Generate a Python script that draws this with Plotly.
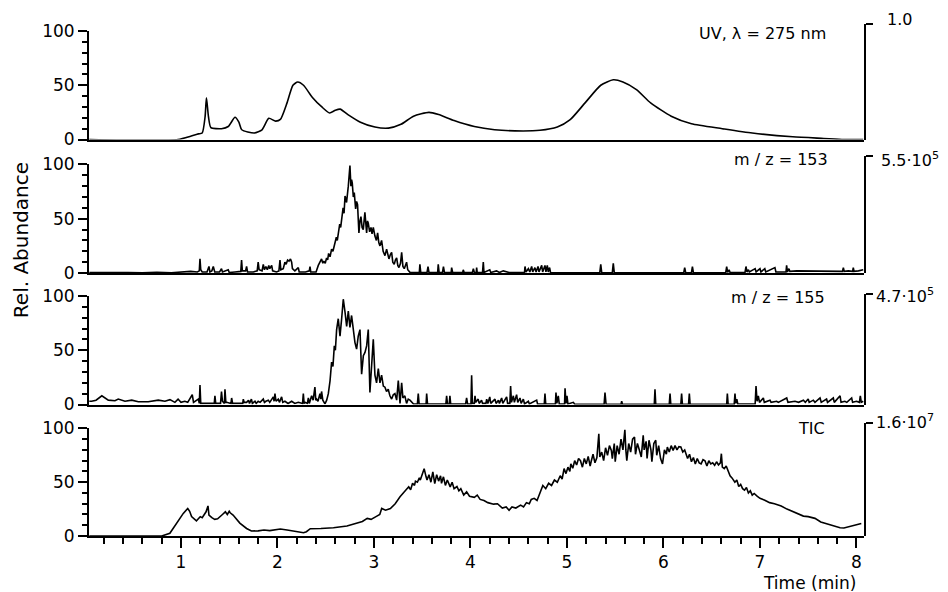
import plotly.graph_objects as go

# ---------------- data ----------------
x_range = [0.047, 8.078]

uv = [(0.05, 0), (0.97, 0), (1.10, 3), (1.18, 5.2), (1.22, 6), (1.25, 21), (1.264, 38.5), (1.285, 21),
      (1.31, 11), (1.42, 10), (1.49, 12), (1.56, 20.5), (1.60, 16), (1.63, 9), (1.76, 6), (1.84, 9),
      (1.91, 19.5), (1.98, 17), (2.03, 18.5), (2.10, 34), (2.16, 50), (2.21, 53), (2.27, 50), (2.36, 39),
      (2.46, 30), (2.54, 24.5), (2.60, 27), (2.65, 28), (2.73, 23), (2.86, 16), (3.01, 11.5), (3.15, 10.5),
      (3.28, 14), (3.41, 21.5), (3.57, 25), (3.67, 23), (3.83, 17.5), (4.04, 12), (4.25, 9), (4.46, 8),
      (4.72, 8.5), (4.90, 11.5), (5.03, 18), (5.19, 34), (5.35, 50), (5.48, 55), (5.58, 53), (5.72, 46),
      (5.87, 33.5), (6.08, 21.5), (6.29, 14.5), (6.61, 10), (6.92, 6), (7.34, 2.5), (7.66, 1), (7.87, 0),
      (8.07, 0)]

mz153 = [(0.05, 0.5), (0.30, 0.8), (0.45, 0.4), (0.60, 0.3), (0.75, 0.7), (0.90, 0.3), (1.00, 0.8), (1.10, 1.5),
         (1.17, 1), (1.19, 2), (1.197, 13), (1.205, 3), (1.22, 1), (1.27, 1), (1.29, 6), (1.30, 1), (1.32, 2),
         (1.335, 6), (1.35, 1), (1.40, 1), (1.42, 4), (1.43, 1), (1.49, 3), (1.50, 0.5), (1.56, 1), (1.62, 1.5),
         (1.628, 12), (1.636, 2), (1.67, 2), (1.68, 6), (1.69, 1), (1.75, 1), (1.79, 2), (1.80, 10), (1.81, 3),
         (1.84, 2), (1.853, 8), (1.865, 3), (1.88, 6), (1.895, 3), (1.91, 7), (1.92, 4), (1.94, 7), (1.95, 2),
         (1.99, 1), (2.015, 2), (2.026, 12), (2.035, 3), (2.06, 4), (2.077, 10), (2.09, 8), (2.105, 12),
         (2.12, 11), (2.135, 13), (2.147, 10), (2.155, 4), (2.18, 2), (2.216, 5), (2.225, 1), (2.29, 1),
         (2.33, 2), (2.337, 6), (2.345, 1), (2.40, 1), (2.423, 7), (2.44, 10), (2.457, 13), (2.47, 9),
         (2.48, 11), (2.495, 9), (2.509, 14), (2.52, 12), (2.53, 18), (2.545, 15), (2.561, 22), (2.575, 20),
         (2.596, 28), (2.61, 33), (2.62, 30), (2.63, 37), (2.645, 45), (2.655, 42), (2.665, 52), (2.68, 60),
         (2.69, 55), (2.70, 71), (2.716, 65), (2.725, 72), (2.734, 80), (2.751, 99), (2.761, 80), (2.768, 86),
         (2.775, 83), (2.786, 70), (2.796, 74), (2.81, 59), (2.82, 66), (2.83, 63), (2.844, 37), (2.855, 48),
         (2.865, 52), (2.877, 42), (2.889, 40), (2.906, 56), (2.915, 44), (2.924, 37), (2.933, 48),
         (2.941, 46), (2.955, 38), (2.969, 42), (2.98, 36), (2.993, 42), (3.01, 34), (3.025, 30), (3.038, 37),
         (3.05, 28), (3.062, 25), (3.079, 30), (3.095, 20), (3.114, 16), (3.131, 22), (3.145, 15), (3.155, 13),
         (3.17, 17), (3.183, 19), (3.195, 10), (3.21, 8), (3.222, 12), (3.235, 14), (3.247, 7), (3.259, 5),
         (3.275, 9), (3.287, 19), (3.30, 6), (3.314, 4), (3.326, 7), (3.338, 10), (3.35, 3), (3.373, 0.6),
         (3.40, 0.5), (3.47, 0.5), (3.476, 8), (3.485, 0.5), (3.55, 0.5), (3.56, 6), (3.57, 0.5), (3.66, 0.5),
         (3.666, 8), (3.675, 0.5), (3.71, 0.5), (3.72, 6), (3.73, 0.5), (3.80, 0.5), (3.805, 5), (3.815, 0.5),
         (3.92, 0.5), (3.925, 3), (3.935, 0.5), (4.02, 0.5), (4.03, 4), (4.04, 0.5), (4.06, 0.5), (4.064, 5),
         (4.07, 0.5), (4.125, 0.5), (4.133, 10), (4.14, 0.5), (4.20, 3), (4.21, 0.5), (4.27, 2), (4.30, 0.5),
         (4.34, 2), (4.375, 1.5), (4.40, 0.5), (4.56, 0.5), (4.565, 6), (4.575, 1), (4.60, 4), (4.615, 1),
         (4.634, 6), (4.645, 1), (4.668, 5), (4.68, 1), (4.70, 6), (4.71, 1), (4.738, 7), (4.748, 1),
         (4.772, 7), (4.782, 1), (4.796, 7), (4.806, 1), (4.82, 5), (4.83, 0.3), (5.34, 0.3), (5.35, 8),
         (5.36, 0.3), (5.47, 0.3), (5.48, 9), (5.49, 0.3), (6.21, 0.3), (6.22, 5), (6.23, 0.3), (6.29, 0.3),
         (6.30, 6), (6.31, 0.3), (6.645, 0.3), (6.655, 6), (6.665, 0.5), (6.68, 3), (6.69, 0.5), (6.845, 0.5),
         (6.855, 6), (6.865, 1), (6.88, 3), (6.89, 1), (6.95, 4), (6.96, 1), (7.00, 4), (7.01, 1), (7.05, 4),
         (7.06, 1), (7.155, 5), (7.165, 1), (7.27, 1), (7.276, 7), (7.285, 1), (7.30, 4), (7.31, 1.5),
         (7.38, 2), (7.45, 2), (7.52, 1.5), (7.59, 2), (7.66, 1.5), (7.73, 2), (7.795, 2), (7.855, 1.5),
         (7.864, 5), (7.873, 1.5), (7.916, 2), (7.96, 1.5), (7.967, 5), (7.975, 1.5), (8.02, 2), (8.07, 3)]

mz155 = [(0.05, 3), (0.074, 3), (0.12, 4), (0.18, 8), (0.247, 4), (0.316, 3.5), (0.35, 5), (0.42, 3), (0.49, 4),
         (0.558, 2.5), (0.66, 2.5), (0.72, 3), (0.765, 4), (0.834, 3), (0.886, 4.5), (0.937, 2), (0.97, 5),
         (1.00, 2), (1.04, 3), (1.07, 2), (1.093, 5), (1.117, 9), (1.13, 2), (1.145, 3), (1.18, 5), (1.19, 1),
         (1.197, 18), (1.205, 1), (1.214, 1), (1.345, 1), (1.352, 8), (1.36, 1), (1.41, 1), (1.42, 12),
         (1.43, 3), (1.45, 1), (1.456, 14), (1.465, 2), (1.473, 2), (1.518, 1), (1.525, 6), (1.535, 1),
         (1.64, 1), (1.646, 5), (1.655, 2), (1.68, 2), (1.70, 4), (1.71, 1), (1.73, 5), (1.74, 1), (1.767, 3),
         (1.78, 1), (1.80, 3), (1.82, 2), (1.853, 5), (1.865, 2), (1.88, 3), (1.905, 4), (1.92, 2), (1.94, 5),
         (1.957, 7), (1.965, 3), (1.974, 10), (1.985, 3), (2.008, 5), (2.02, 2), (2.043, 7), (2.055, 2),
         (2.077, 3), (2.11, 1), (2.147, 3), (2.18, 1), (2.216, 2), (2.26, 1), (2.268, 10), (2.276, 1),
         (2.285, 2), (2.31, 1), (2.32, 6), (2.33, 1), (2.354, 8), (2.37, 4), (2.388, 16), (2.397, 4),
         (2.406, 5), (2.42, 3), (2.44, 10), (2.45, 5), (2.457, 12), (2.47, 4), (2.492, 0.5), (2.51, 4),
         (2.527, 10), (2.545, 22), (2.561, 39), (2.575, 35), (2.589, 54), (2.60, 50), (2.613, 69), (2.63, 79),
         (2.648, 63), (2.665, 79), (2.682, 97), (2.70, 85), (2.717, 72), (2.734, 86), (2.751, 71), (2.768, 82),
         (2.786, 69), (2.803, 57), (2.82, 51), (2.837, 63), (2.855, 69), (2.872, 28), (2.89, 45), (2.907, 48),
         (2.924, 54), (2.941, 69), (2.958, 11), (2.976, 42), (2.993, 60), (3.01, 27), (3.027, 20), (3.045, 33),
         (3.062, 20), (3.079, 27), (3.097, 17), (3.114, 16), (3.13, 12), (3.148, 14), (3.165, 8), (3.183, 5),
         (3.20, 9), (3.217, 10), (3.235, 4), (3.252, 22), (3.27, 1), (3.287, 20), (3.30, 6), (3.32, 8),
         (3.338, 1), (3.355, 5), (3.373, 4), (3.41, 0.5), (3.45, 0.5), (3.459, 10), (3.468, 0.5), (3.54, 0.5),
         (3.546, 10), (3.555, 0.5), (3.745, 0.5), (3.753, 8), (3.762, 0.5), (3.78, 0.5), (3.787, 8),
         (3.795, 0.5), (3.95, 0.5), (3.96, 6), (3.97, 0.5), (4.005, 0.5), (4.012, 27), (4.02, 1), (4.04, 1),
         (4.047, 8), (4.055, 2), (4.08, 5), (4.09, 1), (4.115, 4), (4.125, 1), (4.16, 1), (4.168, 5), (4.18, 1),
         (4.2, 7), (4.21, 1), (4.254, 5), (4.265, 1), (4.29, 4), (4.30, 1), (4.323, 6), (4.335, 1), (4.375, 7),
         (4.385, 1), (4.408, 1), (4.416, 17), (4.425, 2), (4.444, 8), (4.455, 2), (4.478, 9), (4.49, 2),
         (4.513, 6), (4.525, 1), (4.548, 5), (4.56, 0.5), (4.6, 3), (4.61, 0.5), (4.686, 4), (4.695, 0.5),
         (4.765, 0.5), (4.772, 10), (4.78, 0.5), (4.88, 0.5), (4.886, 11), (4.895, 1), (4.91, 8), (4.92, 0.5),
         (4.975, 0.5), (4.98, 15), (4.99, 1), (5.0, 8), (5.01, 0.5), (5.066, 2), (5.08, 0.3), (5.385, 0.3),
         (5.394, 11), (5.405, 0.3), (5.56, 0.3), (5.567, 3), (5.575, 0.3), (5.905, 0.3), (5.912, 14),
         (5.92, 0.3), (6.06, 0.3), (6.068, 10), (6.076, 0.3), (6.18, 0.3), (6.188, 10), (6.196, 0.3),
         (6.26, 0.3), (6.268, 10), (6.276, 0.3), (6.655, 0.3), (6.662, 10), (6.67, 0.3), (6.733, 0.3),
         (6.741, 10), (6.75, 1), (6.76, 5), (6.77, 0.5), (6.95, 0.5), (6.959, 17), (6.97, 3), (6.983, 8),
         (6.995, 2), (7.035, 6), (7.045, 2), (7.104, 4), (7.115, 2), (7.173, 3), (7.19, 2), (7.277, 6),
         (7.29, 2), (7.363, 3), (7.40, 2), (7.45, 4), (7.47, 2), (7.50, 5), (7.51, 2), (7.553, 4), (7.57, 2),
         (7.622, 6), (7.635, 2), (7.69, 5), (7.70, 2), (7.76, 6), (7.77, 2), (7.83, 8), (7.84, 2), (7.88, 3),
         (7.90, 2), (7.95, 6), (7.96, 2), (8.0, 3), (8.03, 2), (8.04, 8), (8.05, 2), (8.07, 3)]

tic = [(0.05, 0), (0.80, 0), (0.885, 2.5), (0.955, 12), (1.00, 18), (1.024, 21), (1.07, 25.6), (1.09, 23),
       (1.11, 18), (1.16, 14), (1.18, 16), (1.20, 18), (1.22, 17), (1.24, 19.5), (1.26, 22.5), (1.28, 28),
       (1.29, 19.5), (1.32, 17), (1.35, 15.5), (1.38, 16), (1.40, 18), (1.43, 20), (1.46, 22.5), (1.48, 20),
       (1.50, 23), (1.51, 21.6), (1.54, 19.5), (1.58, 15), (1.61, 12), (1.68, 7), (1.73, 4.6), (1.80, 4.8),
       (1.86, 5.6), (1.92, 5), (1.97, 5.5), (2.03, 6.5), (2.10, 5.5), (2.17, 4.6), (2.27, 3), (2.30, 4),
       (2.34, 6.8), (2.45, 7), (2.58, 7.7), (2.72, 9.3), (2.76, 10.5), (2.82, 12.3), (2.88, 13.5),
       (2.93, 16.4), (2.97, 15.5), (3.03, 18.5), (3.06, 20), (3.08, 25.6), (3.12, 24), (3.17, 25.6),
       (3.22, 30), (3.27, 36.4), (3.32, 42), (3.36, 45.7), (3.38, 43), (3.40, 49), (3.42, 47), (3.43, 51),
       (3.45, 50), (3.47, 54), (3.48, 52), (3.50, 57), (3.52, 62.6), (3.54, 55), (3.55, 52), (3.57, 57),
       (3.59, 50), (3.61, 59.6), (3.62, 52), (3.63, 48.8), (3.65, 57), (3.67, 51), (3.69, 56), (3.70, 49),
       (3.72, 55), (3.74, 47), (3.76, 52), (3.79, 45.7), (3.81, 50), (3.83, 44), (3.86, 46), (3.88, 42),
       (3.90, 44), (3.93, 38), (3.96, 41), (3.99, 37), (4.04, 36), (4.07, 38), (4.10, 34), (4.14, 33),
       (4.18, 31), (4.24, 29.6), (4.28, 30), (4.33, 26), (4.37, 27), (4.40, 24), (4.43, 27), (4.47, 26),
       (4.52, 28.7), (4.55, 27), (4.58, 31), (4.61, 30), (4.63, 34), (4.66, 35), (4.69, 33), (4.72, 41),
       (4.75, 47), (4.78, 44), (4.81, 49), (4.84, 47), (4.87, 52), (4.90, 50), (4.93, 56), (4.95, 53),
       (4.97, 62.6), (4.99, 58), (5.01, 64), (5.03, 60), (5.04, 67), (5.06, 63), (5.08, 70), (5.10, 66),
       (5.12, 72), (5.14, 70), (5.16, 64), (5.18, 72), (5.20, 67), (5.22, 74), (5.24, 65), (5.25, 69),
       (5.27, 76), (5.29, 68), (5.31, 73), (5.33, 95), (5.34, 73.5), (5.36, 78), (5.38, 70), (5.40, 82),
       (5.42, 75), (5.44, 84), (5.46, 79.6), (5.47, 72), (5.49, 86), (5.50, 69), (5.52, 84), (5.54, 76),
       (5.56, 90), (5.58, 80), (5.60, 98.8), (5.61, 80), (5.62, 70), (5.64, 86), (5.66, 78), (5.68, 90),
       (5.70, 92), (5.71, 76), (5.73, 86), (5.75, 80), (5.77, 73.5), (5.79, 93.5), (5.80, 80), (5.82, 88),
       (5.83, 72), (5.85, 89), (5.87, 80), (5.88, 69), (5.90, 86), (5.92, 89), (5.93, 75), (5.95, 84),
       (5.97, 72), (5.99, 67), (6.01, 80), (6.03, 76), (6.04, 82.7), (6.06, 78), (6.08, 84), (6.10, 79.6),
       (6.12, 84), (6.14, 80), (6.16, 83), (6.18, 82.7), (6.20, 78), (6.22, 80), (6.25, 72), (6.27, 76),
       (6.29, 69), (6.31, 73), (6.33, 67), (6.35, 72), (6.37, 68), (6.39, 67), (6.41, 71), (6.43, 70),
       (6.45, 65), (6.47, 70), (6.49, 67), (6.51, 68), (6.53, 65.7), (6.55, 69), (6.57, 66), (6.59, 68),
       (6.60, 76.5), (6.61, 64), (6.63, 62.6), (6.65, 65), (6.67, 61), (6.69, 56), (6.71, 54), (6.74, 50),
       (6.76, 52), (6.78, 46), (6.80, 48), (6.82, 44), (6.84, 42.6), (6.86, 45), (6.88, 40), (6.90, 42),
       (6.92, 38), (6.94, 39.5), (6.97, 37), (7.00, 35), (7.05, 33.3), (7.10, 31), (7.15, 30), (7.22, 27.8),
       (7.28, 25), (7.33, 23), (7.39, 21), (7.45, 18.5), (7.50, 18), (7.57, 16.4), (7.63, 13), (7.70, 11),
       (7.77, 9), (7.83, 7.7), (7.87, 7.5), (7.91, 8.6), (7.97, 10), (8.02, 11), (8.05, 11.7)]

panel_labels = ["UV, λ = 275 nm", "m / z = 153", "m / z = 155", "TIC"]
scale_labels = ["1.0", "5.5·10<sup>5</sup>", "4.7·10<sup>5</sup>", "1.6·10<sup>7</sup>"]
y_ticks = [0, 50, 100]
y_title = "Rel. Abundance"
x_title = "Time (min)"

# ---------------- layout geometry ----------------
W, H = 948, 592
ML, MR, MT, MB = 89, 84, 20, 56
PW = W - ML - MR
PH = H - MT - MB


def py(p):
    return (H - MB - p) / PH


def px(p):
    return (p - ML) / PW


# (bottom of panel, value 100 level, top of right-hand scale line, label y) in pixels
panel_px = [(138, 29, 22, 32), (272, 163, 155, 158), (404, 295, 293, 297), (536, 428, 423, 428)]
label_right_px = [828, 830, 827, 827]
scale_label_px = [(885, 17), (879, 158), (874, 295), (874, 421)]

FONT = "DejaVu Sans"
series = [uv, mz153, mz155, tic]
shapes = ["spline", "linear", "linear", "linear"]

fig = go.Figure()
layout = dict(
    width=W, height=H, margin=dict(l=ML, r=MR, t=MT, b=MB),
    paper_bgcolor="white", plot_bgcolor="rgba(0,0,0,0)", showlegend=False,
    font=dict(family=FONT, size=16, color="black"),
)

for i in range(4):
    n = i + 1
    # empty trace so that the right-hand scale axis exists (added first -> drawn underneath)
    fig.add_trace(go.Scatter(x=[], y=[], mode="lines", xaxis=f"x{n}", yaxis=f"y{n + 4}",
                             hoverinfo="skip"))
for i in range(4):
    n = i + 1
    pts = series[i]
    fig.add_trace(go.Scatter(
        x=[p[0] for p in pts], y=[p[1] for p in pts], mode="lines",
        line=dict(color="black", width=1.6, shape=shapes[i], smoothing=0.6),
        xaxis=f"x{n}", yaxis=f"y{n}", hoverinfo="skip"))

for i in range(4):
    n = i + 1
    bot, top100, rtop, _ = panel_px[i]
    last = (i == 3)
    xa = dict(domain=[0, 1], range=x_range, anchor=f"y{n}", showline=True, linewidth=2,
              linecolor="black", showgrid=False, zeroline=False, fixedrange=True)
    if last:
        xa.update(ticks="outside", ticklen=10, tickwidth=1.5, tickcolor="black", tick0=0, dtick=1,
                  tickfont=dict(size=17),
                  minor=dict(tick0=0, dtick=0.2, ticks="outside", ticklen=6, tickwidth=1.5,
                             tickcolor="black"))
    else:
        xa.update(showticklabels=False, ticks="", matches="x4")
    layout[f"xaxis{n}"] = xa

    layout[f"yaxis{n}"] = dict(
        domain=[py(bot), py(top100)], range=[0, 100], anchor=f"x{n}",
        showline=True, linewidth=2, linecolor="black", showgrid=False, zeroline=False,
        tickvals=y_ticks, ticks="outside", ticklen=9, tickwidth=1.5, tickcolor="black",
        tickfont=dict(size=17),
        minor=dict(tick0=0, dtick=10, ticks="outside", ticklen=5, tickwidth=1.5, tickcolor="black"),
        fixedrange=True)

    layout[f"yaxis{n + 4}"] = dict(
        domain=[py(bot), py(rtop)], range=[0, 1], anchor=f"x{n}", side="right",
        showline=True, linewidth=2, linecolor="black", showgrid=False, zeroline=False,
        tickvals=[1], showticklabels=False, ticks="outside", ticklen=7, tickwidth=2,
        tickcolor="black", fixedrange=True)

annotations = []
for i in range(4):
    annotations.append(dict(
        text=panel_labels[i], xref="paper", yref="paper",
        x=px(label_right_px[i]), y=py(panel_px[i][3]),
        xanchor="right", yanchor="middle", showarrow=False, font=dict(size=16)))
    annotations.append(dict(
        text=scale_labels[i], xref="paper", yref="paper",
        x=px(scale_label_px[i][0]), y=py(scale_label_px[i][1]),
        xanchor="left", yanchor="middle", showarrow=False, font=dict(size=16)))

annotations.append(dict(text=y_title, xref="paper", yref="paper", textangle=-90,
                        x=px(21), y=py(239), xanchor="center", yanchor="middle",
                        showarrow=False, font=dict(size=20)))
annotations.append(dict(text=x_title, xref="paper", yref="paper",
                        x=px(858), y=py(583), xanchor="right", yanchor="middle",
                        showarrow=False, font=dict(size=17)))
layout["annotations"] = annotations

fig.update_layout(**layout)
fig.write_html("out.html", config={"displayModeBar": False})
